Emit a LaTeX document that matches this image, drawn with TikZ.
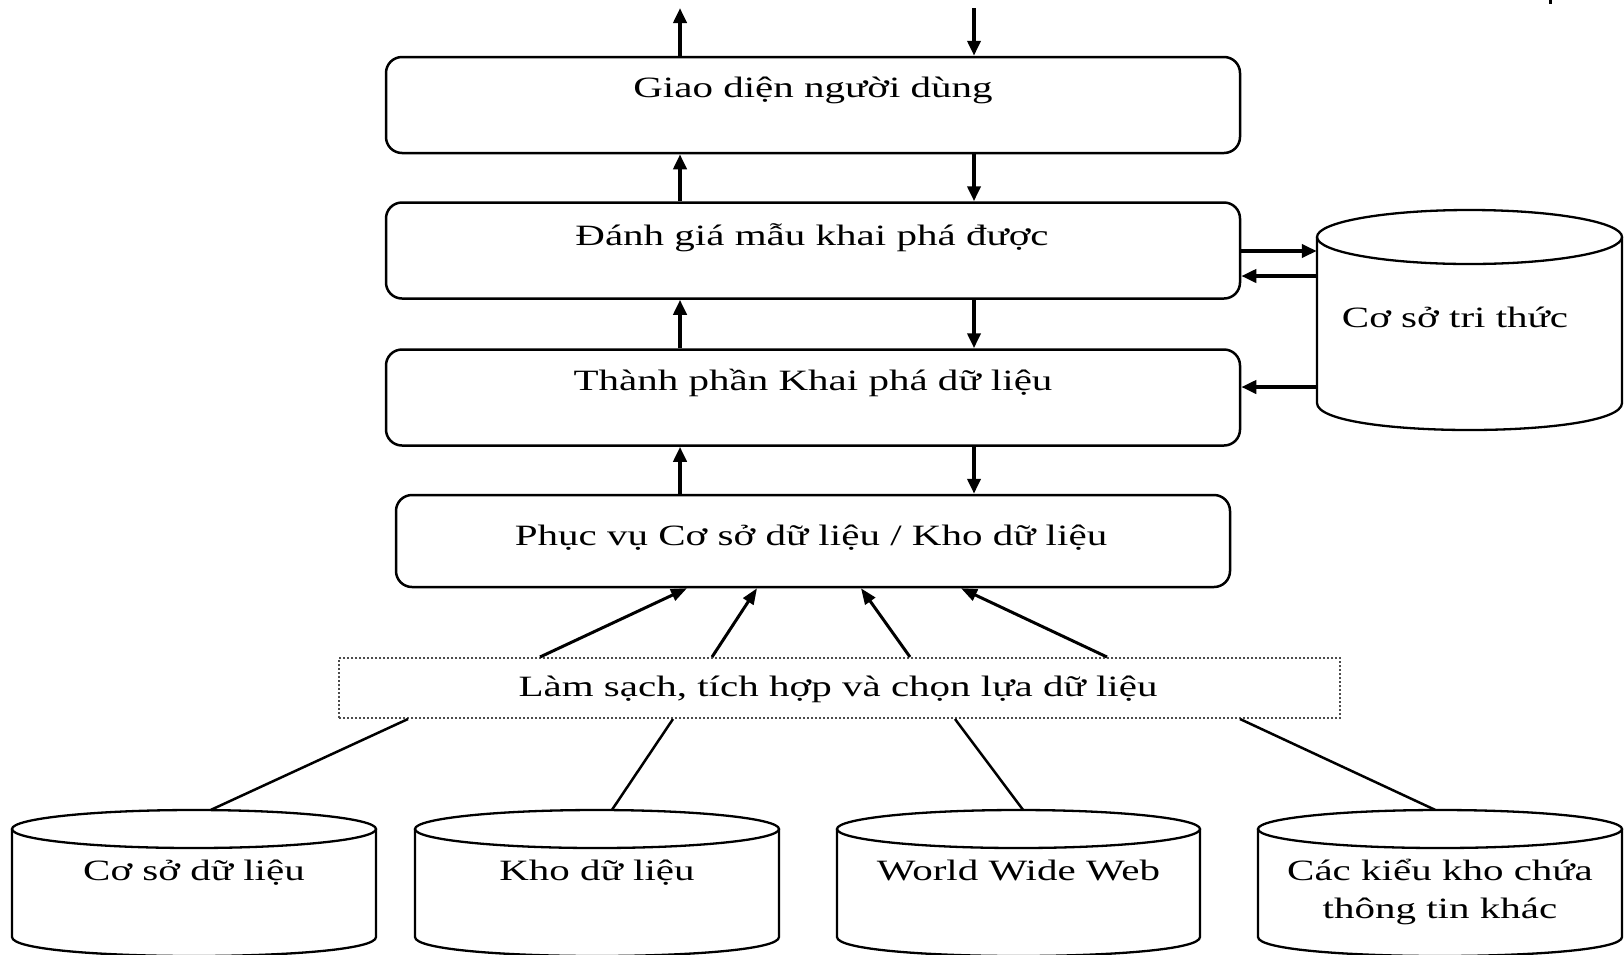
\documentclass[tikz,border=0pt]{standalone}
\usepackage{fontspec}
\setmainfont{Liberation Serif}[FakeStretch=1.39]
\usetikzlibrary{arrows.meta}

% cylinder outline: centre x, x radius, y of top ellipse, y of bottom arc, y radius
\newcommand{\dbdrum}[5]{%
  \draw[drum] (#1,#3) ellipse [x radius=#2pt, y radius=#5pt];
  \draw[drum] (#1-#2,#3) -- (#1-#2,#4)
     .. controls (#1-#2,#4+1.3333*#5) and (#1+#2,#4+1.3333*#5) .. (#1+#2,#4)
     -- (#1+#2,#3);
}

\begin{document}
\begin{tikzpicture}[x=1pt,y=-1pt,
  txt/.style={inner sep=0pt, anchor=base, align=center,
              font=\fontsize{29.5}{38}\selectfont},
  stage/.style={draw, line width=2.5pt, rounded corners=16pt,
                minimum width=854pt, minimum height=96pt, inner sep=0pt},
  filter/.style={draw=black!70, line width=2pt, dash pattern=on 2pt off 2pt,
                 minimum width=1001pt, minimum height=60pt, inner sep=0pt},
  body/.style={inner sep=0pt},
  drum/.style={line width=2.3pt},
  arr/.style={line width=4pt, -{Triangle[length=15pt,width=13pt]}},
  feed/.style={line width=3pt, -{Triangle[length=16pt,width=12pt]}},
  link/.style={line width=2.5pt}]
\useasboundingbox (0,0) rectangle (1624,954);

% processing stages
\node[stage] (ui)   at (813,105)   {};
\node[stage] (eval) at (813,250.5) {};
\node[stage] (mine) at (813,397.5) {};
\node[stage, minimum width=834pt, minimum height=92pt] (serve) at (813,541) {};
\node[filter] (clean) at (839.5,688) {};

\node[txt] (ui-t)    at (813,97)   {Giao diện người dùng};
\node[txt] (eval-t)  at (812,245)  {Đánh giá mẫu khai phá được};
\node[txt] (mine-t)  at (813,390)  {Thành phần Khai phá dữ liệu};
\node[txt] (serve-t) at (811,545)  {Phục vụ Cơ sở dữ liệu / Kho dữ liệu};
\node[txt] (clean-t) at (838,696)  {Làm sạch, tích hợp và chọn lựa dữ liệu};

% knowledge base
\dbdrum{1469.5}{152.5}{237}{403}{27}
\node[body, minimum width=305pt, minimum height=220pt] (kb) at (1469.5,320) {};
\node[txt] (kb-t) at (1455,327) {Cơ sở tri thức};

% data sources
\dbdrum{194}{182}{829}{937}{19}
\dbdrum{597}{182}{829}{937}{19}
\dbdrum{1018.5}{181.5}{829}{937}{19}
\dbdrum{1440}{182}{829}{937}{19}
\node[body, minimum width=364pt, minimum height=144pt] (db)    at (194,882)    {};
\node[body, minimum width=364pt, minimum height=144pt] (dw)    at (597,882)    {};
\node[body, minimum width=363pt, minimum height=144pt] (www)   at (1018.5,882) {};
\node[body, minimum width=364pt, minimum height=144pt] (other) at (1440,882)   {};
\node[txt] (db-t)    at (194,880)    {Cơ sở dữ liệu};
\node[txt] (dw-t)    at (597,880)    {Kho dữ liệu};
\node[txt] (www-t)   at (1018.5,880) {World Wide Web};
\node[txt] (other-t) at (1440,918)   {Các kiểu kho chứa\\thông tin khác};

% vertical flow between stages
\coordinate (outU) at (680,8);
\coordinate (inD)  at (974,8);
\draw[arr] (ui.north -| outU) -- (outU);
\draw[arr] (inD) -- (ui.north -| inD);
\foreach \lo/\hi in {eval/ui, mine/eval, serve/mine}{
  \draw[arr] (\lo.north -| outU) -- (\hi.south -| outU);
  \draw[arr] (\hi.south -| inD) -- (\lo.north -| inD);
}

% knowledge base exchange
\draw[arr] (eval.east |- 0,251) -- (kb.west |- 0,251);
\draw[arr] (kb.west |- 0,276) -- (eval.east |- 0,276);
\draw[arr] (kb.west |- 0,387) -- (mine.east |- 0,387);

% cleaned data feeding the server
\draw[feed] (clean.north -| 540,0)  -- (serve.south -| 687,0);
\draw[feed] (clean.north -| 712,0)  -- (serve.south -| 757,0);
\draw[feed] (clean.north -| 910,0)  -- (serve.south -| 861,0);
\draw[feed] (clean.north -| 1107,0) -- (serve.south -| 961,0);

% sources into cleaning
\draw[link] (clean.south -| 408,0)  -- (db.north -| 211,0);
\draw[link] (clean.south -| 673,0)  -- (dw.north -| 612,0);
\draw[link] (clean.south -| 955,0)  -- (www.north -| 1023,0);
\draw[link] (clean.south -| 1240,0) -- (other.north -| 1435,0);

% short stub at the upper edge
\draw[line width=3pt] (1550,0) -- (1550,4);
\end{tikzpicture}
\end{document}
